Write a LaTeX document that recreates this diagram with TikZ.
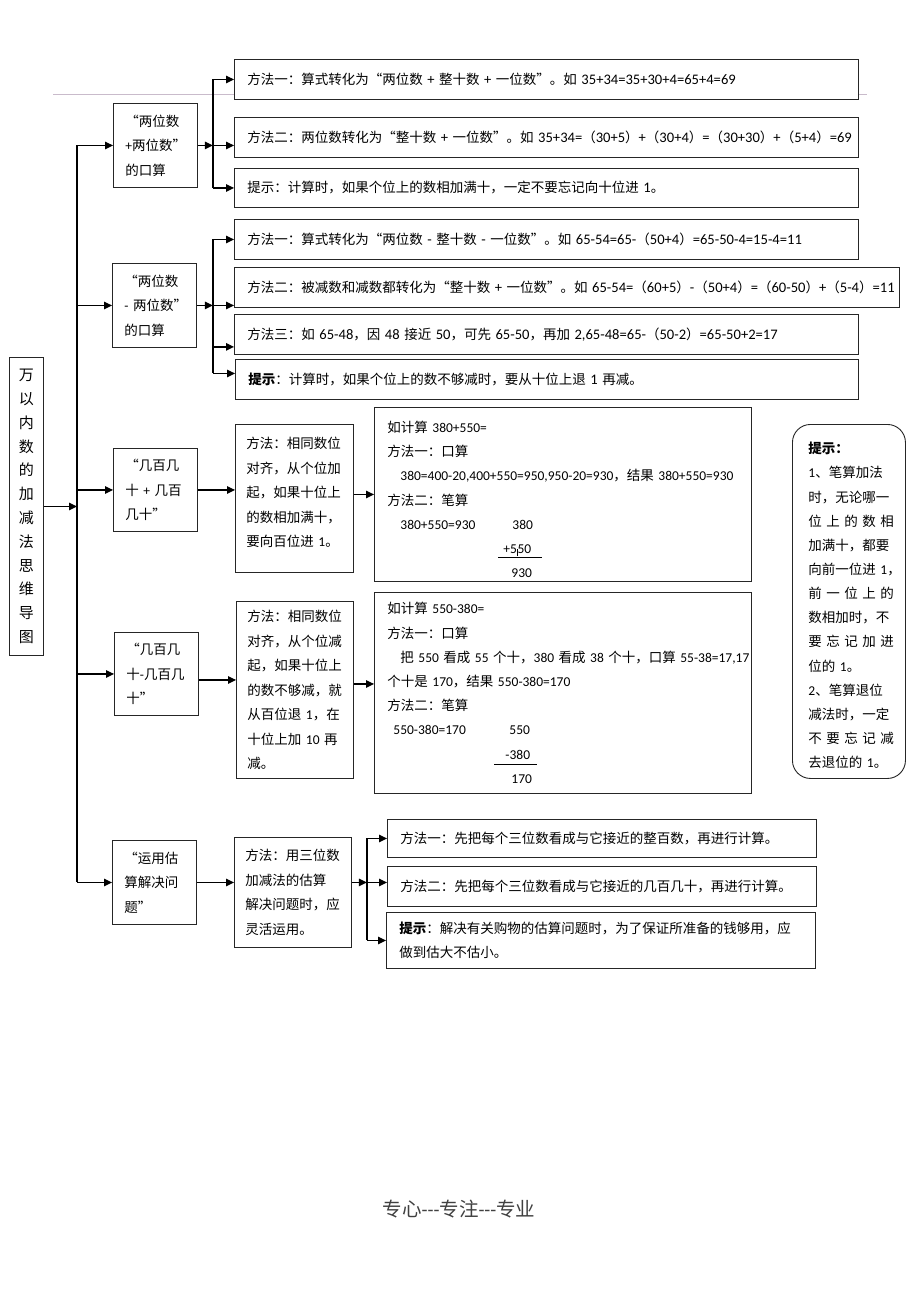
\documentclass[tikz,border=0pt]{standalone}
\usepackage{fontspec}
\setmainfont{Carlito}
\newfontfamily\cjkfont{Noto Sans CJK SC}
\newfontfamily\latbig[Scale=1.08]{Carlito}
% Han characters and full-width signs take the CJK font
\newcommand\latsel{\rmfamily}
\newXeTeXintercharclass\cjkclass
\newcount\cjkcode
\newcommand\setcjkrange[2]{\cjkcode=#1\relax
  \loop\XeTeXcharclass\cjkcode=\cjkclass\relax
  \ifnum\cjkcode<#2\relax\advance\cjkcode by 1\relax\repeat}
\setcjkrange{"4E00}{"9FFF}
\setcjkrange{"3000}{"303F}
\setcjkrange{"FF00}{"FFEF}
\setcjkrange{"201C}{"201D}
\XeTeXinterchartoks 0 \cjkclass = {\cjkfont}
\XeTeXinterchartoks 4095 \cjkclass = {\cjkfont}
\XeTeXinterchartoks \cjkclass 0 = {\latsel}
\XeTeXinterchartoks 4095 0 = {\latsel}
\XeTeXinterchartokenstate=1
\exhyphenpenalty=10000
\hyphenpenalty=10000
\usepackage{tikz}
\usetikzlibrary{arrows.meta, positioning, calc}
\definecolor{BoxLine}{HTML}{262626}
\definecolor{RuleGrey}{HTML}{C9BBCB}
\definecolor{FootGrey}{HTML}{404040}
\tikzset{
  % Box styles
  basebox/.style={rectangle, draw=BoxLine, line width=0.9pt, fill=white, inner ysep=0pt, inner xsep=13pt, font=\fontsize{13.5}{24.5}\selectfont},
  rootbox/.style={basebox, inner xsep=0pt, minimum width=34pt, minimum height=298pt, align=center, font=\fontsize{15}{23.8}\selectfont},
  topicbox/.style={basebox, inner xsep=12pt, minimum height=84pt, text width=60pt, align=left},
  linebox/.style={basebox, text width=#1, minimum height=40pt, align=left},
  bigline/.style={font=\fontsize{13.5}{24.5}\selectfont\let\latsel\latbig},
  methodbox/.style={basebox, inner xsep=11pt, text width=95pt, align=left},
  examplebox/.style={basebox, text width=351pt, align=left, font=\fontsize{13.5}{24.2}\selectfont},
  tipbox/.style={basebox, rounded corners=18pt, inner xsep=16pt, text width=81pt, minimum height=354pt, align=left, font=\fontsize{13.5}{24.15}\selectfont},
  % Arrow styles
  arrow/.style={-{Triangle[length=8pt,width=7.5pt]}, line width=1.2pt, black},
  plainline/.style={line width=1.2pt, black},
  headrule/.style={line width=0.8pt, RuleGrey},
  sumrule/.style={line width=0.8pt, black}
}

\begin{document}
\begin{tikzpicture}[x=1pt, y=-1pt]
  % Page
  \path[fill=white, use as bounding box] (0,0) rectangle (920,1302);
  \draw[headrule] (53,94) -- (867,94);

  % Root and topics
  \node[rootbox, anchor=north west] (root) at (9,357) {万\\以\\内\\数\\的\\加\\减\\法\\思\\维\\导\\图};
  \node[topicbox, anchor=north west] (t1) at (113,103) {“两位数\\+两位数”\\的口算};
  \node[topicbox, anchor=north west] (t2) at (112,263) {“两位数\\-~两位数”\\的口算};
  \node[topicbox, anchor=north west, minimum height=83pt] (t3) at (113,448) {“几百几\\十~+~几百\\几十”};
  \node[topicbox, anchor=north west, minimum height=83pt] (t4) at (114,632) {“几百几\\十-几百几\\十”};
  \node[topicbox, anchor=north west] (t5) at (112,840) {“运用估\\算解决问\\题”};

  % Two-digit addition
  \node[linebox=598pt, bigline, anchor=north west] (s1a) at (234,59) {方法一：算式转化为“两位数 + 整十数 + 一位数”。如 35+34=35+30+4=65+4=69};
  \node[linebox=598pt, bigline, anchor=north west] (s1b) at (234,117) {方法二：两位数转化为“整十数 + 一位数”。如~35+34=（30+5）+（30+4）=（30+30）+（5+4）=69};
  \node[linebox=598pt, bigline, anchor=north west, minimum height=39pt] (s1c) at (234,168) {提示：计算时，如果个位上的数相加满十，一定不要忘记向十位进 1。};

  % Two-digit subtraction
  \node[linebox=598pt, bigline, anchor=north west] (s2a) at (234,219) {方法一：算式转化为“两位数 - 整十数 - 一位数”。如 65-54=65-（50+4）=65-50-4=15-4=11};
  \node[linebox=639pt, bigline, anchor=north west] (s2b) at (234,267) {方法二：被减数和减数都转化为“整十数~+~一位数”。如~65-54=（60+5）-（50+4）=（60-50）+（5-4）=11};
  \node[linebox=598pt, bigline, anchor=north west] (s2c) at (234,314) {方法三：如 65-48，因 48 接近 50，可先 65-50，再加~2,65-48=65-（50-2）=65-50+2=17};
  \node[linebox=597pt, bigline, anchor=north west] (s2d) at (235,359) {\textbf{提示}：计算时，如果个位上的数不够减时，要从十位上退 1 再减。};

  % Three-digit addition
  \node[methodbox, anchor=north west, minimum height=148pt, text width=96pt] (m3) at (235,424) {方法：相同数位\\对齐，从个位加\\起，如果十位上\\的数相加满十，\\要向百位进~1。\\[-12pt]\mbox{}};
  \node[examplebox, anchor=north west, minimum height=174pt] (e3) at (374,407) {\mbox{}\\[-3pt]如计算 380+550=\\
    方法一：口算\\
    \hspace*{13pt}380=400-20,400+550=950,950-20=930，结果~380+550=930\\
    方法二：笔算\\
    \hspace*{13pt}\makebox[112pt][l]{380+550=930}380\\
    \hspace*{116pt}+5\rule[-3pt]{0.6pt}{7pt}50\\
    \hspace*{124pt}930};
  \draw[sumrule] ($(e3.north west)+(124,150)$) -- +(44,0);

  % Three-digit subtraction
  \node[methodbox, anchor=north west, minimum height=177pt] (m4) at (236,601) {方法：相同数位\\对齐，从个位减\\起，如果十位上\\的数不够减，就\\从百位退~1，在\\十位上加~10~再\\减。};
  \node[examplebox, anchor=north west, minimum height=201pt] (e4) at (374,592) {如计算 550-380=\\
    方法一：口算\\
    \hspace*{13pt}把~550~看成~55~个十，380~看成~38~个十，口算~55-38=17,17\\
    个十是 170，结果 550-380=170\\
    方法二：笔算\\
    \hspace*{6pt}\makebox[116pt][l]{550-380=170}550\\
    \hspace*{118pt}-380\\
    \hspace*{124pt}170};
  \draw[sumrule] ($(e4.north west)+(120,172)$) -- +(43,0);

  % Estimation
  \node[methodbox, anchor=north west, minimum height=110pt] (m5) at (234,837) {方法：用三位数\\加减法的估算\\解决问题时，应\\灵活运用。};
  \node[linebox=403pt, anchor=north west, minimum height=38pt] (s5a) at (387,819) {方法一：先把每个三位数看成与它接近的整百数，再进行计算。};
  \node[linebox=403pt, anchor=north west] (s5b) at (387,866) {方法二：先把每个三位数看成与它接近的几百几十，再进行计算。};
  \node[linebox=403pt, anchor=north west, minimum height=56pt] (s5c) at (386,912) {\textbf{提示}：解决有关购物的估算问题时，为了保证所准备的钱够用，应\\做到估大不估小。};

  % Side tips
  \node[tipbox, anchor=north west] (tips) at (792,424) {\mbox{}\\[-4.6pt]\textbf{提示：}\\1、笔算加法\\时，无论哪一\\位~上~的~数~相\\加满十，都要\\向前一位进~1，\\前~一~位~上~的\\数相加时，不\\要~忘~记~加~进\\位的~1。\\2、笔算退位\\减法时，一定\\不~要~忘~记~减\\去退位的~1。};

  % Trunk
  \coordinate (trunk) at (77,509);
  \draw[plainline] (trunk |- t1.west) -- (trunk |- t5.west);
  \draw[arrow] (root.east) -- (root.east -| trunk);
  \foreach \t in {t1,t2,t3,t4,t5}
    \draw[arrow] (trunk |- \t.west) -- (\t.west);

  % Section 1 links
  \coordinate[right=15pt of t1.east] (j1);
  \draw[arrow] (t1.east) -- (j1);
  \draw[plainline] (j1 |- s1a.west) -- (j1 |- s1c.west);
  \draw[arrow] (j1 |- s1a.west) -- (s1a.west);
  \draw[arrow] (j1) -- (j1 -| s1b.west);
  \draw[arrow] (j1 |- s1c.west) -- (s1c.west);

  % Section 2 links
  \coordinate[right=16pt of t2.east] (j2);
  \coordinate[above=8pt of s2c.south west] (s2cin);
  \coordinate[above=6pt of s2d.west] (s2din);
  \draw[arrow] (t2.east) -- (j2);
  \draw[plainline] (j2 |- s2a.west) -- (j2 |- s2din);
  \draw[arrow] (j2 |- s2a.west) -- (s2a.west);
  \draw[arrow] (j2) -- (j2 -| s2b.west);
  \draw[arrow] (j2 |- s2cin) -- (s2cin);
  \draw[arrow] (j2 |- s2din) -- (s2din);

  % Section 3 and 4 links
  \draw[arrow] (t3.east) -- (t3.east -| m3.west);
  \draw[arrow] (m3.east |- e3.west) -- (e3.west);
  \coordinate[below=6pt of t4.east] (t4out);
  \coordinate[above=9pt of e4.west] (e4in);
  \draw[arrow] (t4out) -- (t4out -| m4.west);
  \draw[arrow] (e4in -| m4.east) -- (e4in);

  % Section 5 links
  \path (t5.east -| m5.east) coordinate (m5out) ++(15,0) coordinate (j5);
  \draw[arrow] (t5.east) -- (t5.east -| m5.west);
  \draw[arrow] (m5out) -- (j5);
  \draw[plainline] (j5 |- s5a.west) -- (j5 |- s5c.west);
  \draw[arrow] (j5 |- s5a.west) -- (s5a.west);
  \draw[arrow] (j5) -- (j5 -| s5b.west);
  \draw[arrow] (j5 |- s5c.west) -- (s5c.west);

  % Footer
  \node[font=\fontsize{19.5}{20}\selectfont, text=FootGrey] (slogan) at (459,1209) {专心{-}{-}{-}专注{-}{-}{-}专业};
\end{tikzpicture}
\end{document}
